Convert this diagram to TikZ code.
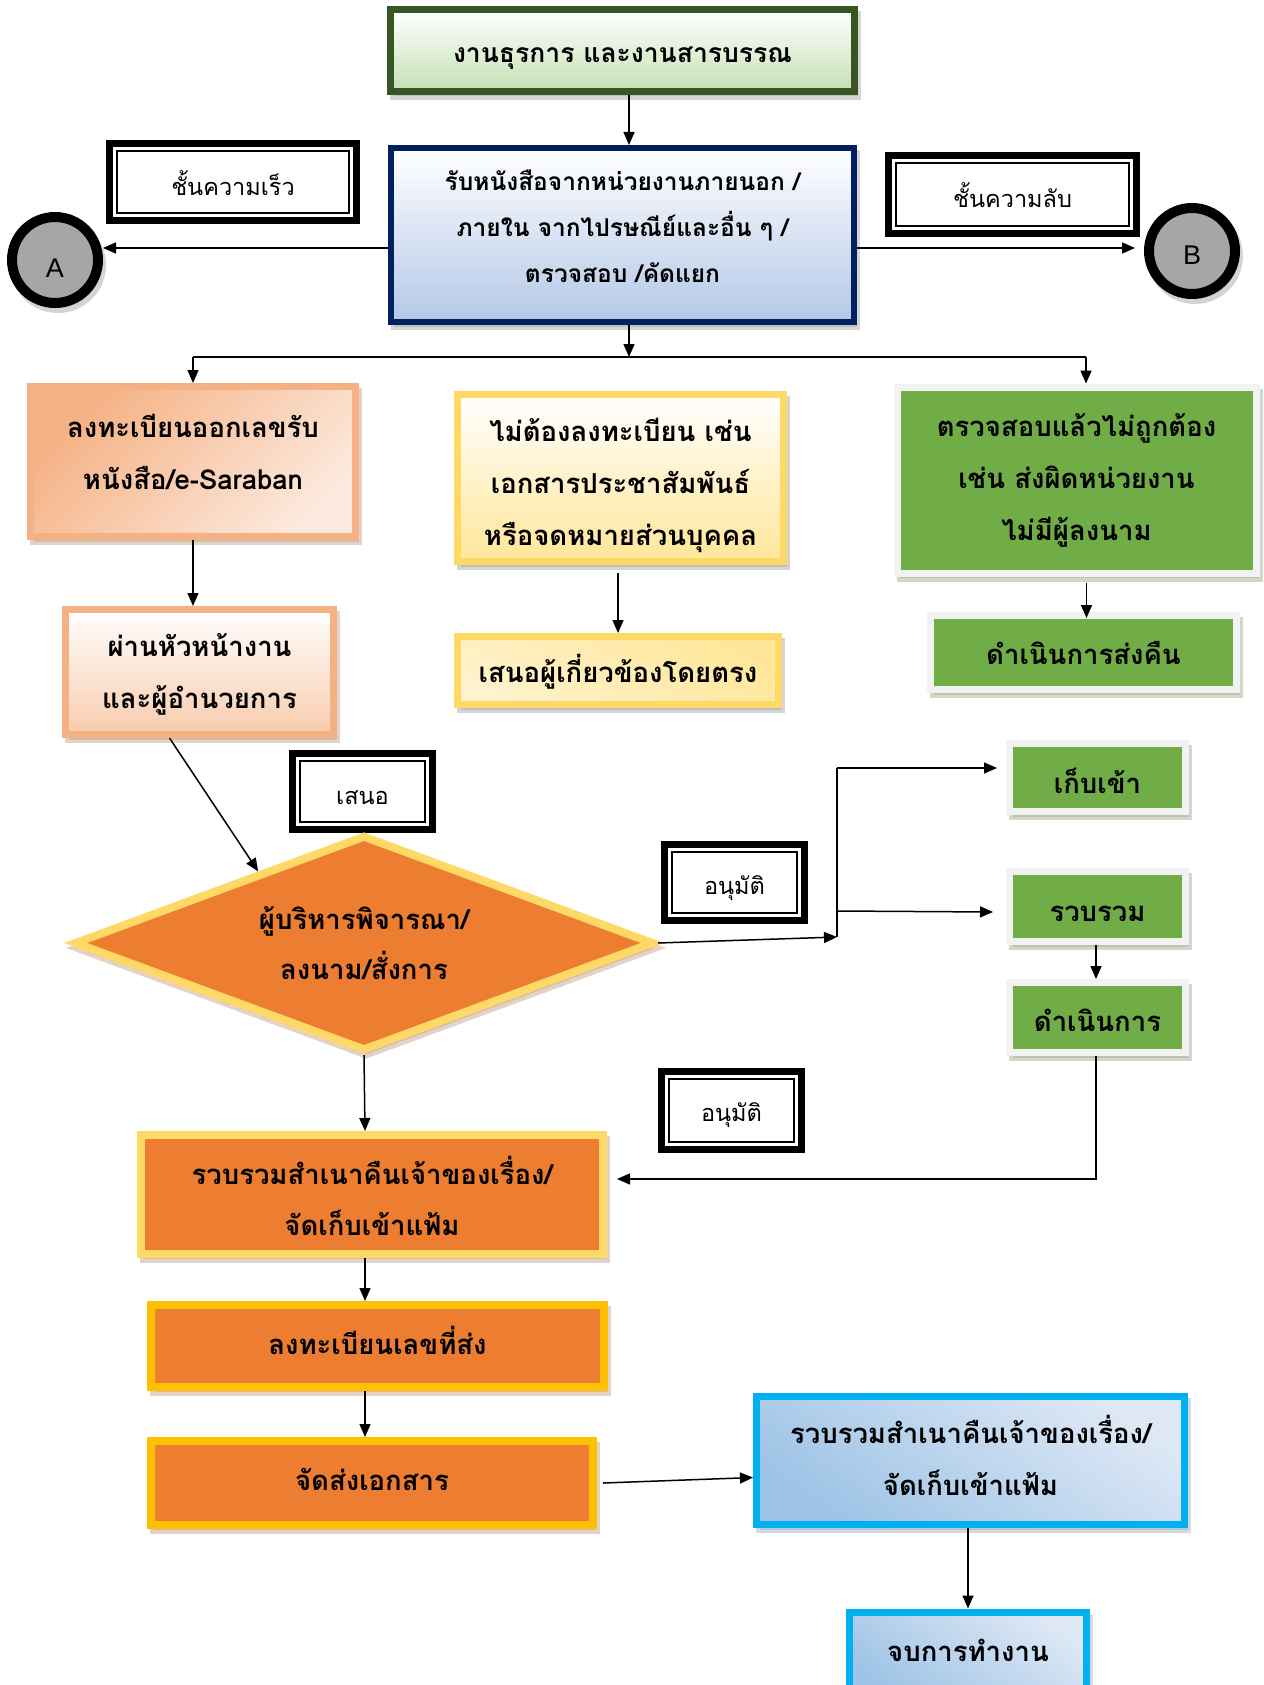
\documentclass[tikz,border=0pt]{standalone}
\usepackage{fontspec}
\newfontfamily\thai[Script=Thai]{Loma}
\setsansfont{Liberation Sans}
\usetikzlibrary{arrows.meta,shadows,shapes.geometric,calc}
\definecolor{dkgreen}{HTML}{375623}
\definecolor{navyb}{HTML}{002060}
\definecolor{lgreen}{HTML}{C5E0B4}
\definecolor{lblue}{HTML}{B4C7E7}
\definecolor{peach}{HTML}{F4B183}
\definecolor{peachl}{HTML}{FCE9DD}
\definecolor{peachm}{HTML}{F8CBAD}
\definecolor{yell}{HTML}{FFD966}
\definecolor{yelll}{HTML}{FFF2CC}
\definecolor{yellm}{HTML}{FFE699}
\definecolor{grn}{HTML}{70AD47}
\definecolor{grayb}{HTML}{F2F2F2}
\definecolor{orng}{HTML}{ED7D31}
\definecolor{cgold}{HTML}{FFC000}
\definecolor{cyanb}{HTML}{00B0F0}
\definecolor{bluel}{HTML}{DEE8F5}
\definecolor{bluem}{HTML}{9DC3E6}
\definecolor{circg}{HTML}{A6A6A6}
\definecolor{shgray}{HTML}{ABABAB}
\definecolor{shbrown}{HTML}{C9A68E}
\definecolor{shgreen}{HTML}{A3B396}
\definecolor{shblue}{HTML}{A9B4C2}
\begin{document}
\begin{tikzpicture}[x=1pt,y=-1pt,
  sh/.style={drop shadow={shadow xshift=3pt,shadow yshift=-5pt,fill=#1,draw=#1}},
  bt/.style={font=\thai\bfseries\fontsize{#1}{52}\selectfont},
  tdn/.style={text height=#1,text depth=0pt},
  tup/.style={text height=0pt,text depth=#1},
  box/.style={rectangle,inner sep=0pt,align=center,text=black},
  lbl/.style={rectangle,draw=black,line width=7pt,fill=white,inner sep=0pt,
    align=center,font=\thai\fontsize{23.5}{28}\selectfont,
    path picture={\draw[line width=1.3pt]
      ([xshift=7.5pt,yshift=-7.5pt]path picture bounding box.north west) rectangle
      ([xshift=-7.5pt,yshift=7.5pt]path picture bounding box.south east);}},
  circ/.style={circle,draw=black,line width=10pt,fill=circg,inner sep=0pt,
    minimum size=86pt,font=\sffamily\fontsize{27}{30}\selectfont,sh=shgray},
  gbox/.style={box,draw=grayb,line width=7pt,fill=grn,sh=shgreen,bt=27.5},
  obox/.style={box,line width=8pt,fill=orng,sh=shbrown,bt=27.5},
  arr/.style={line width=1.5pt,-{Triangle[length=13pt,width=11pt]}},
  ln/.style={line width=1.5pt}
]
\useasboundingbox (0,0) rectangle (1263,1685);
\fill[white] (0,0) rectangle (1263,1685);

% top row
\node[box,draw=dkgreen,line width=7pt,top color=white,bottom color=lgreen,sh=shgray,
  minimum width=464pt,minimum height=82pt,bt=26.5,tdn=25pt] (top) at (622.5,50.5) {งานธุรการ และงานสารบรรณ};
\node[box,draw=navyb,line width=6pt,top color=white,bottom color=lblue,sh=shgray,
  minimum width=463pt,minimum height=174pt,font=\thai\bfseries\fontsize{24.5}{46}\selectfont,tdn=96pt] (rcv) at (622.5,235)
  {รับหนังสือจากหน่วยงานภายนอก /\\ภายใน จากไปรษณีย์และอื่น ๆ /\\ตรวจสอบ /คัดแยก};
\node[lbl,minimum width=247pt,minimum height=77pt,tdn=28pt] (fast) at (233,182) {ชั้นความเร็ว};
\node[lbl,minimum width=248pt,minimum height=78pt,tdn=27pt] (secret) at (1012.5,194.5) {ชั้นความลับ};
\node[circ,tdn=35pt] (A) at (55,260) {A};
\node[circ,tdn=27pt] (B) at (1192,251) {B};

% second row
\node[box,draw=peach,line width=7pt,top color=peach,bottom color=peachl,shading angle=45,sh=shbrown,
  minimum width=325pt,minimum height=150pt,bt=27.5,tdn=56.3pt] (reg) at (193,461.5) {ลงทะเบียนออกเลขรับ\\หนังสือ/e-Saraban};
\node[box,draw=peach,line width=7pt,top color=white,bottom color=peachm,sh=shbrown,
  minimum width=268pt,minimum height=125pt,bt=27.5,tdn=73.3pt] (head) at (199.5,672) {ผ่านหัวหน้างาน\\และผู้อำนวยการ};
\node[box,draw=yell,line width=7pt,top color=white,bottom color=yellm,sh=shgray,
  minimum width=326pt,minimum height=167pt,bt=27.5,tdn=135.3pt] (noreg) at (620.5,478)
  {ไม่ต้องลงทะเบียน เช่น\\เอกสารประชาสัมพันธ์\\หรือจดหมายส่วนบุคคล};
\node[box,draw=yell,line width=7pt,top color=yellm,bottom color=yelll,shading angle=-30,sh=shgray,
  minimum width=321pt,minimum height=68pt,bt=27.5,tdn=23.4pt] (direct) at (618,670.5) {เสนอผู้เกี่ยวข้องโดยตรง};
\node[gbox,minimum width=359pt,minimum height=186pt,tdn=121.3pt] (wrong) at (1076.5,480)
  {ตรวจสอบแล้วไม่ถูกต้อง\\เช่น ส่งผิดหน่วยงาน\\ไม่มีผู้ลงนาม};
\node[gbox,minimum width=306pt,minimum height=74pt,tdn=23.4pt] (ret) at (1083.5,652.5) {ดำเนินการส่งคืน};

% decision
\node[lbl,minimum width=140pt,minimum height=76pt,tdn=25pt] (propose) at (362.5,791.5) {เสนอ};
\node[diamond,aspect=2.7,draw=yell,line width=8pt,fill=orng,inner sep=0pt,align=center,
  minimum width=580pt,minimum height=216pt,drop shadow={shadow xshift=2pt,shadow yshift=-5pt,fill=shbrown,draw=shbrown},
  font=\thai\bfseries\fontsize{27.5}{50}\selectfont,tdn=72.3pt] (dia) at (364,943) {ผู้บริหารพิจารณา/\\ลงนาม/สั่งการ};
\node[lbl,minimum width=140pt,minimum height=76pt,tdn=23pt] (ok1) at (734.5,882.5) {อนุมัติ};
\node[gbox,minimum width=176pt,minimum height=68pt,tdn=31pt] (store) at (1097.5,777.5) {เก็บเข้า};
\node[gbox,minimum width=176pt,minimum height=70pt,tdn=30pt] (collect) at (1097.5,906.5) {รวบรวม};
\node[gbox,minimum width=176pt,minimum height=70pt,tdn=27pt] (act) at (1097.5,1017.5) {ดำเนินการ};
\node[lbl,minimum width=140pt,minimum height=78pt,tdn=21pt] (ok2) at (731.5,1110.5) {อนุมัติ};

% bottom
\node[obox,draw=yell,minimum width=462pt,minimum height=119pt,font=\thai\bfseries\fontsize{27.5}{51}\selectfont,tdn=82.3pt] (file) at (372,1194.5)
  {รวบรวมสำเนาคืนเจ้าของเรื่อง/\\จัดเก็บเข้าแฟ้ม};
\node[obox,draw=cgold,minimum width=453pt,minimum height=82pt,tdn=17.4pt] (sendreg) at (377.5,1346) {ลงทะเบียนเลขที่ส่ง};
\node[obox,draw=cgold,minimum width=442pt,minimum height=84pt,tdn=14.4pt] (send) at (372,1483) {จัดส่งเอกสาร};
\node[box,draw=cyanb,line width=7pt,top color=bluel,bottom color=bluem,shading angle=-35,sh=shblue,
  minimum width=428pt,minimum height=128pt,bt=27.5,tdn=70.3pt] (file2) at (970.5,1460.5)
  {รวบรวมสำเนาคืนเจ้าของเรื่อง/\\จัดเก็บเข้าแฟ้ม};
\node[box,draw=cyanb,line width=7pt,top color=bluel,bottom color=bluem,shading angle=-35,sh=shblue,
  minimum width=237pt,minimum height=88pt,bt=27.5,tdn=10.4pt] (end) at (968,1656) {จบการทำงาน};

% connectors
\draw[arr] ([xshift=6.5pt]top.south) -- ([xshift=6.5pt]rcv.north);
\draw[arr] ([yshift=-13pt]rcv.west) -- ([yshift=-13pt]rcv.west -| A.east);
\coordinate (bend) at (1135,248);
\draw[arr] ([yshift=-13pt]rcv.east) -- (bend);
\coordinate (j) at (629,357);
\coordinate (jl) at (193,357);
\coordinate (jr) at (1086,357);
\draw[arr] ([xshift=6.5pt]rcv.south) -- (j);
\draw[ln] (jl) -- (jr);
\draw[arr] (jl) -- (jl |- reg.north);
\draw[arr] (jr) -- (jr |- wrong.north);
\draw[arr] (reg.south) -- (reg.south |- head.north);
\draw[arr] ([yshift=-8pt]noreg.south -| direct.north) -- (direct.north);
\draw[arr] ([xshift=10pt,yshift=-6pt]wrong.south) -- ([xshift=10pt,yshift=-6pt]wrong.south |- ret.north);
\draw[arr] ([xshift=-30pt]head.south) -- ($(dia.west)!0.64!(dia.north)$);
\coordinate (k) at (837,937);
\draw[arr] (dia.east) -- (k);
\draw[ln] (k) -- (837,768);
\draw[arr] (837,768) -- ([xshift=-9pt]store.west |- 0,768);
\draw[arr] (837,911) -- ([xshift=-13pt]collect.west |- 0,912);
\draw[arr] ([xshift=-1.5pt]collect.south) -- ([xshift=-1.5pt]act.north);
\draw[arr] ([xshift=-1.5pt]act.south) |- ([xshift=10pt,yshift=15.5pt]file.east);
\draw[arr] (dia.south) -- ([xshift=-7pt]file.north);
\draw[arr] ([xshift=-7pt]file.south) -- ([xshift=-7pt]file.south |- sendreg.north);
\draw[arr] ([xshift=-12.5pt]sendreg.south) -- ([xshift=-12.5pt]sendreg.south |- send.north);
\draw[arr] ([xshift=6pt]send.east) -- ([yshift=-17pt]file2.west);
\draw[arr] ([xshift=-2.5pt]file2.south) -- ([xshift=-2.5pt]file2.south |- end.north);
\end{tikzpicture}
\end{document}
